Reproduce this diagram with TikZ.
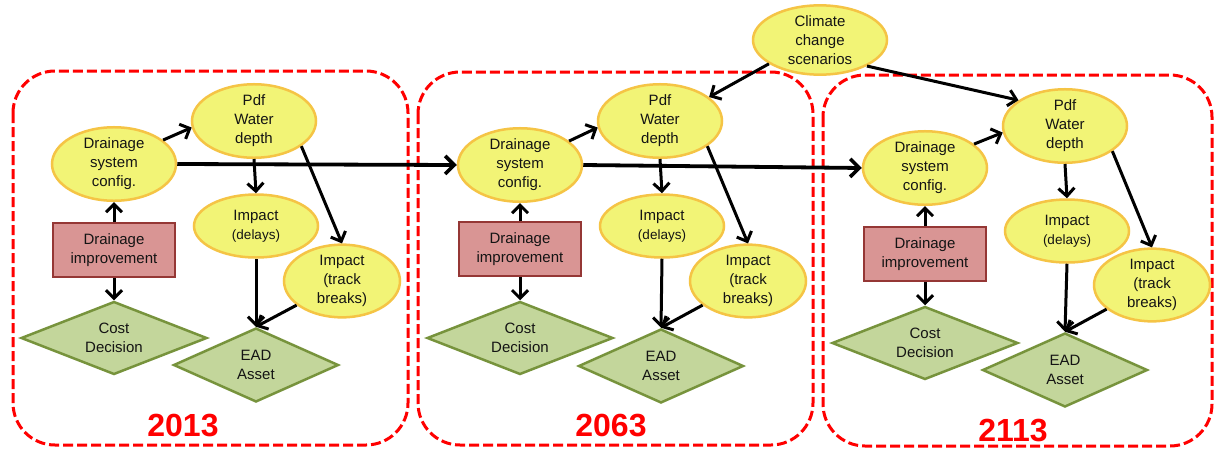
\documentclass[tikz,border=0pt]{standalone}
\usepackage{fontspec}
\setmainfont{Liberation Sans}
\usetikzlibrary{shapes.geometric,arrows.meta}
\definecolor{ellfill}{HTML}{F2F476}
\definecolor{ellline}{HTML}{F5C445}
\definecolor{rectfill}{HTML}{D99594}
\definecolor{rectline}{HTML}{953735}
\definecolor{diafill}{HTML}{C3D69B}
\definecolor{dialine}{HTML}{77933C}
\definecolor{txt}{HTML}{141414}
\tikzset{
  base/.style={font=\fontsize{15}{19}\selectfont, text=txt, align=center, inner sep=0pt, line width=2.5pt},
  ell/.style={base, ellipse, draw=ellline, fill=ellfill, minimum width=124pt, minimum height=63pt},
  smallell/.style={ell, minimum width=116pt, minimum height=65pt},
  impr/.style={base, rectangle, draw=rectline, fill=rectfill, minimum width=122pt, minimum height=54pt},
  dia/.style={base, diamond, draw=dialine, fill=diafill, aspect=2.5},
  costdia/.style={dia, minimum width=186pt, minimum height=73pt},
  eaddia/.style={dia, minimum width=165pt, minimum height=74pt},
  panel/.style={draw=red, line width=3pt, dash pattern=on 10pt off 4pt, rounded corners=42pt},
  year/.style={font=\bfseries\fontsize{32}{32}\selectfont, text=red, inner sep=0pt},
  arr/.style={line width=3pt, -{Straight Barb[length=8pt,width=16pt,line width=3pt]}},
  longarr/.style={line width=3.8pt, -{Straight Barb[length=9pt,width=18pt,line width=3.6pt]}}
}
\begin{document}
\begin{tikzpicture}[x=1pt,y=-1pt]
\useasboundingbox (0,0) rectangle (1216,450);
\fill[white] (0,0) rectangle (1216,450);
% panels
\draw[panel] (13,71) rectangle (408,445);
\draw[panel] (418,72) rectangle (813,445);
\draw[panel] (823,75) rectangle (1212,446);
% panel 1
\node[ell] (dsc1) at (114,164) {Drainage\\system\\config.};
\node[ell] (pdf1) at (254,121) {Pdf\\Water\\depth};
\node[ell] (del1) at (256,226) {Impact\\{\fontsize{13.5}{17}\selectfont(delays)}};
\node[smallell] (trk1) at (342,281) {Impact\\(track\\breaks)};
\node[impr] (imp1) at (114,250) {Drainage\\improvement};
\node[costdia] (cost1) at (114,338) {Cost\\Decision};
\node[eaddia] (ead1) at (256,365) {EAD\\Asset};
\node[year] (y1) at (183,426) {2013};
% panel 2
\node[ell] (dsc2) at (520,165) {Drainage\\system\\config.};
\node[ell] (pdf2) at (660,121) {Pdf\\Water\\depth};
\node[ell] (del2) at (662,226) {Impact\\{\fontsize{13.5}{17}\selectfont(delays)}};
\node[smallell] (trk2) at (748,281) {Impact\\(track\\breaks)};
\node[impr] (imp2) at (520,249) {Drainage\\improvement};
\node[costdia] (cost2) at (520,338) {Cost\\Decision};
\node[eaddia] (ead2) at (661,366) {EAD\\Asset};
\node[year] (y2) at (611,426) {2063};
% panel 3
\node[ell] (dsc3) at (925,168) {Drainage\\system\\config.};
\node[ell] (pdf3) at (1065,126) {Pdf\\Water\\depth};
\node[ell] (del3) at (1067,231) {Impact\\{\fontsize{13.5}{17}\selectfont(delays)}};
\node[smallell] (trk3) at (1152,285) {Impact\\(track\\breaks)};
\node[impr] (imp3) at (925,254) {Drainage\\improvement};
\node[costdia] (cost3) at (925,343) {Cost\\Decision};
\node[eaddia] (ead3) at (1065,370) {EAD\\Asset};
\node[year] (y3) at (1013,431) {2113};
% climate
\node[ell, minimum width=134pt, minimum height=64pt] (clim) at (820,40) {Climate\\change\\scenarios};
% arrows within panels
\foreach \i in {1,2,3}{
  \draw[arr] (dsc\i.26) -- (pdf\i.186);
  \draw[arr] (pdf\i.south) -- (del\i.north);
  \draw[arr] (pdf\i.-28) -- (trk\i.north);
  \draw[arr] (del\i.south) -- (ead\i.north);
  \draw[arr] (trk\i.208) -- (ead\i.north);
  \draw[arr] (imp\i.north) -- (dsc\i.south);
  \draw[arr] (imp\i.south) -- (cost\i.north);
}
% long arrows
\draw[longarr] (dsc1.east) -- (dsc2.west);
\draw[longarr] (dsc2.east) -- (dsc3.west);
% climate arrows
\draw[arr] (clim.205) -- (pdf2.26);
\draw[arr] (clim.-29) -- (pdf3.151);
\end{tikzpicture}
\end{document}
